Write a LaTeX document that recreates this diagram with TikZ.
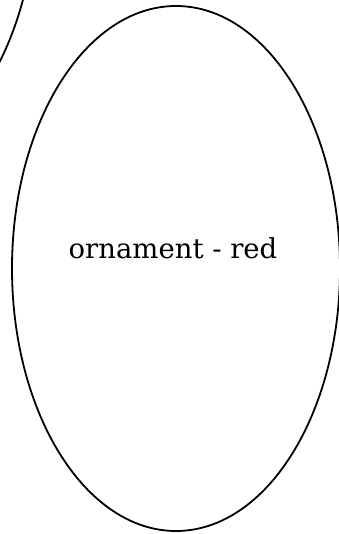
\documentclass[tikz,border=0pt]{standalone}
\usepackage{fontspec}
\setmainfont{DejaVu Serif}
\usetikzlibrary{shapes.geometric, positioning}
\tikzset{
    ornament/.style={ellipse, draw, line width=1.8pt, inner sep=0pt, minimum width=328pt, minimum height=525pt},
    ornlabel/.style={font=\fontsize{27.5}{32}\selectfont},
}

\begin{document}
\begin{tikzpicture}[x=1pt, y=-1pt]
    \useasboundingbox (0,0) rectangle (338,534);
    % neighbour, mostly off the page
    \node[ornament] (other) at (-128,-103) {};
    % the red one
    \node[ornament] (red) at (176,268.5) {};
    \node[ornlabel] (redtext) at ([xshift=-3pt, yshift=20pt]red.center) {ornament - red};
\end{tikzpicture}
\end{document}
